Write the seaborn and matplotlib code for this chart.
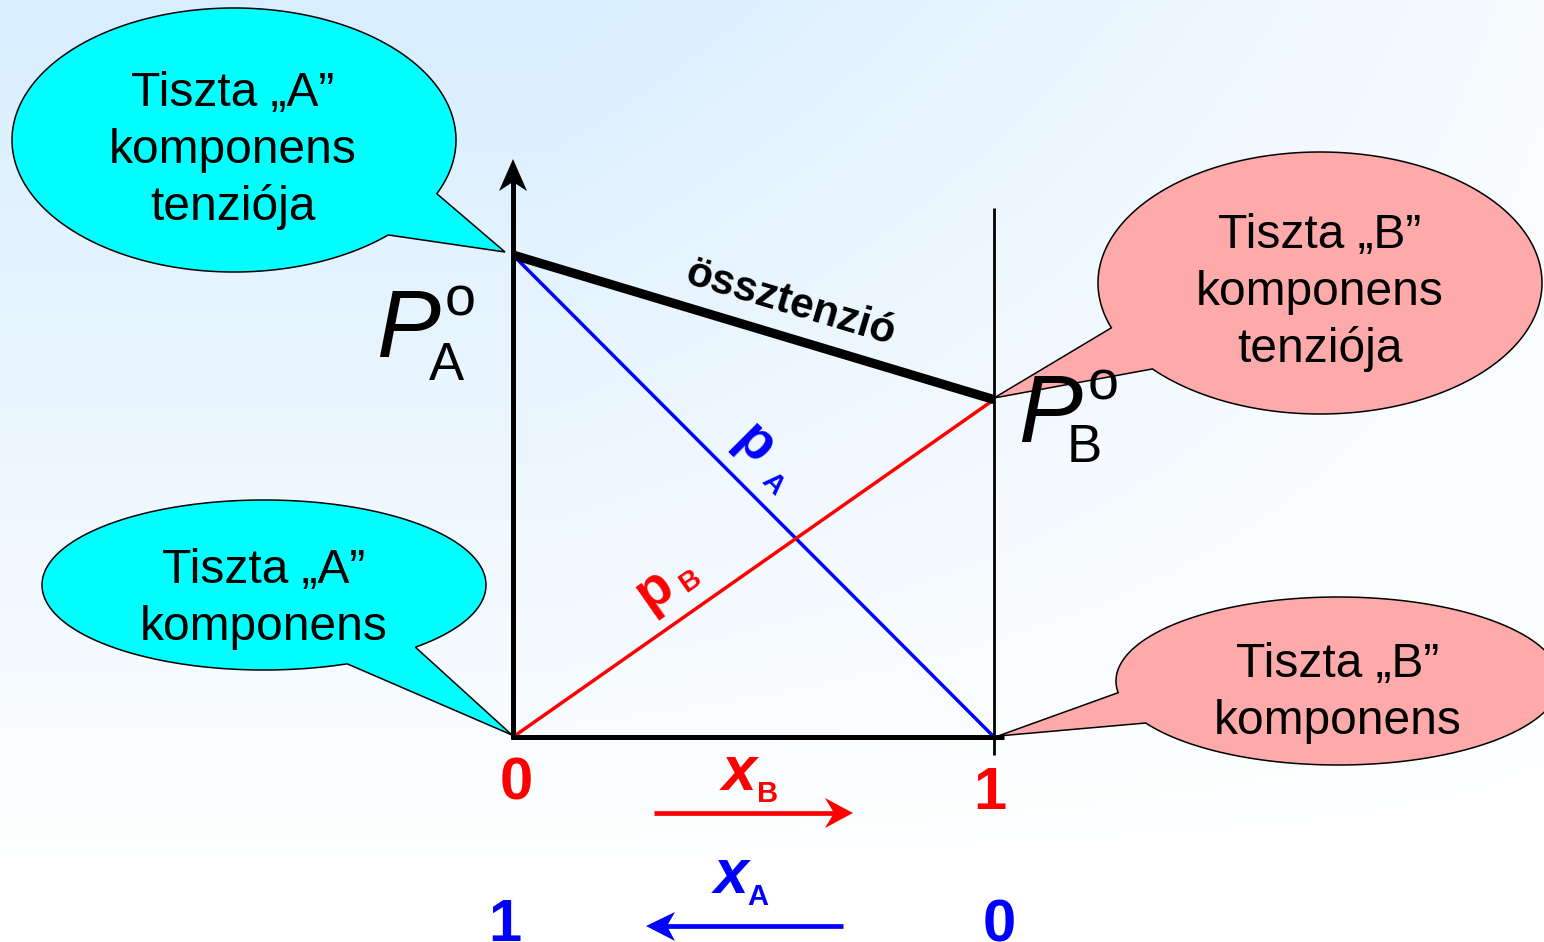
import numpy as np
import pandas as pd
import matplotlib
matplotlib.use("Agg")
import matplotlib.pyplot as plt
import seaborn as sns
from matplotlib.patches import Polygon

# Mole fraction of B along the horizontal axis
x_B = [0.0, 1.0]
# Vapour pressures in arbitrary units (pure A = 100)
p_A = [100.0, 0.0]        # partial pressure of A
p_B = [0.0, 70.0]         # partial pressure of B
p_total = [100.0, 70.0]   # total vapour pressure

xB_tick_pos = [0.0, 1.0]
xB_tick_labels = ["0", "1"]
xA_tick_labels = ["1", "0"]

sns.set_theme(style="white")
plt.rcParams["font.family"] = ["Liberation Sans", "DejaVu Sans"]
plt.rcParams["text.color"] = "black"
plt.rcParams["lines.solid_capstyle"] = "butt"

W, H = 1544, 942
fig = plt.figure(figsize=(W / 100, H / 100), dpi=100)

# ---- backdrop layer in pixel coordinates ---------------------------------
bg = fig.add_axes([0, 0, 1, 1])
bg.set_xlim(0, W)
bg.set_ylim(H, 0)
bg.axis("off")

yy, xx = np.mgrid[0:H:2, 0:W:2].astype(float)
t = np.clip(1 - yy / 880.0, 0, 1) * (1 - 0.8 * np.clip((xx - 550) / 994.0, 0, 1))
top = np.array([216, 238, 254]) / 255.0
img = (1 - t[..., None]) * 1.0 + t[..., None] * top
bg.imshow(img, extent=(0, W, H, 0), aspect="auto", interpolation="bilinear", zorder=0)


def bubble(ax, cx, cy, a, b, gap, tip, color):
    t0, t1 = np.deg2rad(gap)
    ang = np.linspace(t1, t0 + 2 * np.pi, 300)
    pts = np.column_stack([cx + a * np.cos(ang), cy + b * np.sin(ang)])
    pts = np.vstack([pts, tip])
    ax.add_patch(Polygon(pts, closed=True, facecolor=color, edgecolor="black",
                         lw=1.1, joinstyle="miter", zorder=2))


CYAN = "#00FFFF"
PINK = "#FFAAAA"
RED = "#FF0000"
BLUE = "#0000FF"

bubble(bg, 234, 140, 222, 132, (24, 46), (505, 252), CYAN)
bubble(bg, 1320, 283, 222, 131, (139, 160), (994, 398), PINK)
bubble(bg, 264, 585, 222, 85, (47, 68), (512, 735), CYAN)
bubble(bg, 1338, 681, 222, 84, (150, 172), (998, 736), PINK)

FS = 34.5
def lines(ax, x, baselines, texts):
    for yb, s in zip(baselines, texts):
        ax.text(x, yb, s, ha="center", va="baseline", fontsize=FS, color="black", zorder=3)

lines(bg, 233, [106, 163, 220], ["Tiszta \u201eA\u201d", "komponens", "tenziója"])
lines(bg, 1320, [248, 305, 362], ["Tiszta \u201eB\u201d", "komponens", "tenziója"])
lines(bg, 264, [583, 640], ["Tiszta \u201eA\u201d", "komponens"])
lines(bg, 1338, [677, 734], ["Tiszta \u201eB\u201d", "komponens"])

# P_A° and P_B° labels
for (px, pb, ox, ob, sx, sb, sub) in [(408, 357, 460, 315, 446, 380, "A"),
                                      (1050, 442, 1103, 400, 1084, 462, "B")]:
    bg.text(px, pb, "P", ha="center", va="baseline", fontsize=69, style="italic",
            color="black", zorder=3)
    bg.text(ox, ob, "o", ha="center", va="baseline", fontsize=40, color="black", zorder=3)
    bg.text(sx, sb, sub, ha="center", va="baseline", fontsize=38, color="black", zorder=3)

# total pressure label along the thick line
bg.text(790, 303, "össztenzió", ha="center", va="center", rotation=-16.6,
        rotation_mode="anchor", fontsize=30.5, fontweight="bold", color="black", zorder=3)

# partial pressure labels
bg.text(754, 445, "p", ha="center", va="center", rotation=-45, rotation_mode="anchor",
        fontsize=40, fontweight="bold", color=BLUE, zorder=3)
bg.text(772, 484, "A", ha="center", va="center", rotation=-45, rotation_mode="anchor",
        fontsize=20, fontweight="bold", color=BLUE, zorder=3)
bg.text(654, 590, "p", ha="center", va="center", rotation=35, rotation_mode="anchor",
        fontsize=40, fontweight="bold", color=RED, zorder=3)
bg.text(690, 582, "B", ha="center", va="center", rotation=35, rotation_mode="anchor",
        fontsize=20, fontweight="bold", color=RED, zorder=3)

# composition scale labels
bg.text(739, 790, "x", ha="center", va="baseline", fontsize=45, fontweight="bold",
        style="italic", color=RED, zorder=3)
bg.text(768, 802, "B", ha="center", va="baseline", fontsize=21, fontweight="bold",
        color=RED, zorder=3)
bg.text(731, 893, "x", ha="center", va="baseline", fontsize=45, fontweight="bold",
        style="italic", color=BLUE, zorder=3)
bg.text(758, 905, "A", ha="center", va="baseline", fontsize=21, fontweight="bold",
        color=BLUE, zorder=3)

# direction arrows under the axis
bg.plot([654, 836], [813, 813], color=RED, lw=3.4, zorder=3)
bg.add_patch(Polygon([(853, 813), (825, 798), (834, 813), (825, 828)], closed=True,
                     facecolor=RED, edgecolor="none", zorder=3))
bg.plot([843, 663], [926, 926], color=BLUE, lw=3.4, zorder=3)
bg.add_patch(Polygon([(646, 926), (675, 912), (667, 926), (675, 941)], closed=True,
                     facecolor=BLUE, edgecolor="none", zorder=3))

# arrow head of the pressure axis
bg.add_patch(Polygon([(513, 159), (499, 191), (513, 182), (527, 191)], closed=True,
                     facecolor="black", edgecolor="none", zorder=3))

# ---- diagram axes in data coordinates ------------------------------------
x0, y0, pw, ph = 513, 737, 481, 482
ax = fig.add_axes([x0 / W, (H - y0) / H, pw / W, ph / H])
ax.patch.set_alpha(0)

sns.lineplot(x=x_B, y=p_A, ax=ax, color=BLUE, linewidth=2.5, sort=False)
sns.lineplot(x=x_B, y=p_B, ax=ax, color=RED, linewidth=2.5, sort=False)
sns.lineplot(x=x_B, y=p_total, ax=ax, color="black", linewidth=6.6, sort=False)

ax.set_xlim(0, 1)
ax.set_ylim(0, 100)
ax.axis("off")

# axes frame: vertical pressure axis, composition axis, right boundary
ax.plot([0, 0], [-0.5, 116], color="black", lw=3.6)
ax.plot([-0.005, 1.02], [0, 0], color="black", lw=3.6)
ax.plot([1, 1], [-3.7, 109.7], color="black", lw=2.0)

for ln in ax.lines:
    ln.set_clip_on(False)
    ln.set_solid_capstyle("butt")

# tick labels for x_B (red, first row) and x_A (blue, second row)
red_offsets = [(3, -63), (-4, -72)]
blue_offsets = [(-8, -204), (5, -204)]
for xp, s, off in zip(xB_tick_pos, xB_tick_labels, red_offsets):
    ax.annotate(s, xy=(xp, 0), xytext=off, textcoords="offset pixels",
                ha="center", va="baseline", fontsize=43, fontweight="bold", color=RED,
                annotation_clip=False)
for xp, s, off in zip(xB_tick_pos, xA_tick_labels, blue_offsets):
    ax.annotate(s, xy=(xp, 0), xytext=off, textcoords="offset pixels",
                ha="center", va="baseline", fontsize=43, fontweight="bold", color=BLUE,
                annotation_clip=False)

fig.savefig("out.png", dpi=100)
